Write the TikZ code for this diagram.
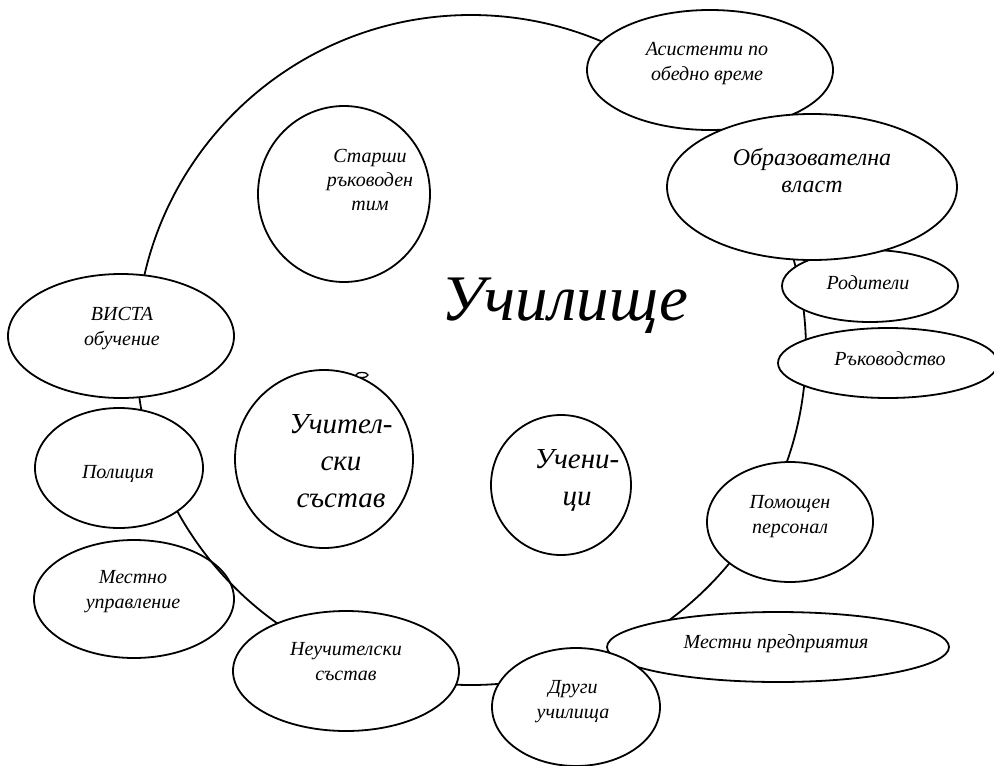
\documentclass[tikz,border=0pt]{standalone}
\usepackage{fontspec}
\setmainfont{Liberation Serif}
\usetikzlibrary{shapes.geometric}
\newcommand\stk[1]{\vtop{\halign{\hfil##\hfil\cr#1\crcr}}}
\tikzset{
  oval/.style={ellipse, draw, line width=1.8pt, fill=white, inner sep=0pt},
  lbl/.style={anchor=base, inner sep=0pt, font=\itshape\fontsize{20}{25}\selectfont},
  big/.style={anchor=base, inner sep=0pt, font=\itshape\fontsize{29}{37}\selectfont},
}
\begin{document}
\begin{tikzpicture}[x=1pt,y=-1pt]
\useasboundingbox (0,0) rectangle (994,766);
% drawn beneath the school circle
\node[oval, minimum width=200pt, minimum height=118pt] (mestno) at (134,599) {};
% the school
\node[circle, draw, line width=1.8pt, inner sep=0pt, minimum size=670pt] (school) at (471,350) {};
% shapes around
\node[oval, minimum width=246pt, minimum height=120pt] (asist) at (710,70) {};
\node[oval, minimum width=176pt, minimum height=72pt] (rodit) at (870,286) {};
\node[oval, minimum width=290pt, minimum height=146pt] (obraz) at (812,187) {};
\node[oval, minimum width=220pt, minimum height=70pt] (rakov) at (888,363) {};
\node[oval, minimum width=166pt, minimum height=120pt] (pomosht) at (790,522) {};
\node[oval, minimum width=342pt, minimum height=70pt] (mestni) at (778,647) {};
\node[oval, minimum width=168pt, minimum height=118pt] (drugi) at (576,707) {};
\node[oval, minimum width=226pt, minimum height=120pt] (neuch) at (346,671) {};
\node[oval, minimum width=168pt, minimum height=120pt] (polic) at (119,468) {};
\node[oval, minimum width=226pt, minimum height=124pt] (vista) at (121,336) {};
\node[oval, minimum width=172pt, minimum height=176pt] (starshi) at (344,194) {};
\node[oval, minimum width=178pt, minimum height=178pt] (uchitel) at (324,459) {};
\node[oval, minimum width=140pt, minimum height=140pt] (uchen) at (561,485) {};
\node[oval, line width=1.3pt, minimum width=12pt, minimum height=5pt] (bump) at (362,375) {};
% texts
\node[anchor=base, inner sep=0pt, font=\itshape\fontsize{65}{70}\selectfont] (schoolT) at (565,320) {Училище};
\node[lbl] (asistT) at (707,55) {\stk{Асистенти по\cr обедно време}};
\node[lbl, font=\itshape\fontsize{24}{27}\selectfont] (obrazT) at (812,165) {\stk{Образователна\cr власт}};
\node[lbl] (roditT) at (868,289) {Родители};
\node[lbl] (rakovT) at (890,365) {Ръководство};
\node[lbl] (pomoshtT) at (790,508) {\stk{Помощен\cr персонал}};
\node[lbl] (mestniT) at (776,648) {Местни предприятия};
\node[lbl] (drugiT) at (573,693) {\stk{Други\cr училища}};
\node[lbl] (neuchT) at (346,655) {\stk{Неучителски\cr състав}};
\node[lbl] (mestnoT) at (133,583) {\stk{Местно\cr управление}};
\node[lbl] (policT) at (118,478) {Полиция};
\node[lbl] (vistaT) at (122,320) {\stk{ВИСТА\cr обучение}};
\node[lbl, font=\itshape\fontsize{20}{24}\selectfont] (starshiT) at (370,162) {\stk{Старши\cr ръководен\cr тим}};
\node[big] (uchitelT) at (341,433) {\stk{Учител-\cr ски\cr състав}};
\node[big] (uchenT) at (577,468) {\stk{Учени-\cr ци}};
\end{tikzpicture}
\end{document}
